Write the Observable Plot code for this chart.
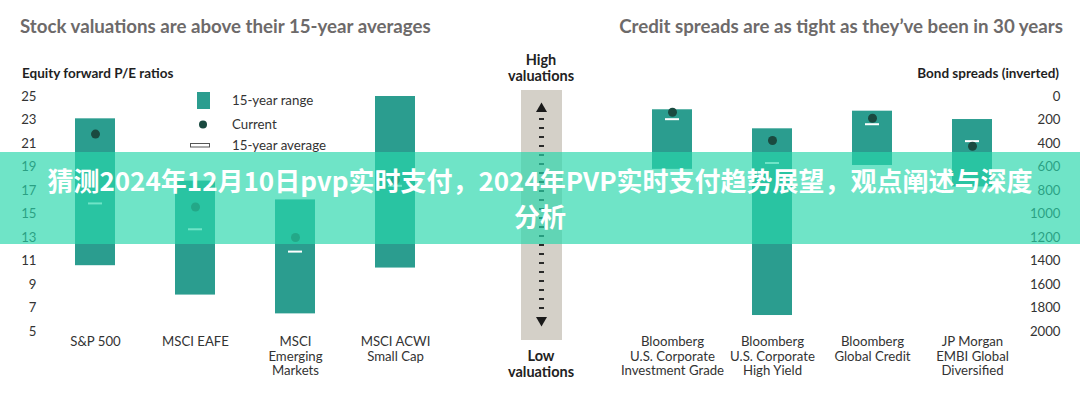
<!DOCTYPE html>
<html>
<head>
<meta charset="utf-8">
<script src="https://cdn.jsdelivr.net/npm/d3@7"></script>
<script src="https://cdn.jsdelivr.net/npm/@observablehq/plot@0.6"></script>
<style>
  html, body { margin: 0; padding: 0; background: #fff; }
  #wrap { position: relative; width: 1080px; height: 397px; overflow: hidden; background: #fff; font-family: Lato, "Open Sans", sans-serif; }
  .title { position: absolute; top: 14px; font-weight: 700; font-size: 18.7px; color: #6d6a6a; white-space: nowrap; line-height: 24px; }
  .axtitle { position: absolute; top: 65px; font-weight: 700; font-size: 13.5px; color: #1f1f1f; white-space: nowrap; line-height: 16px; }
  .gauge { position: absolute; font-weight: 700; font-size: 14.5px; color: #222; text-align: center; line-height: 16px; width: 120px; left: 481px; }
  #banner { position: absolute; left: 0; top: 152px; width: 1080px; height: 92px; background: rgba(40, 215, 172, 0.67);
            display: flex; align-items: center; justify-content: center; text-align: center;
            font-family: "Noto Sans CJK SC", sans-serif; font-weight: 700; font-size: 26px; line-height: 36px; color: #fff; }
</style>
</head>
<body>
<div id="wrap"></div>
<script>
// ---- Data ----
const stockCategories = ["S&P 500", "MSCI EAFE", "MSCI\nEmerging\nMarkets", "MSCI ACWI\nSmall Cap"];
const stockLow     = [10.6, 8.1, 6.5, 10.4];
const stockHigh    = [23.1, 17.8, 16.2, 25.0];
const stockCurrent = [21.8, 15.6, 13.0, 17.9];
const stockAverage = [15.9, 13.7, 11.8, 17.4];
const stockTicks   = [5, 7, 9, 11, 13, 15, 17, 19, 21, 23, 25];

const bondCategories = ["Bloomberg\nU.S. Corporate\nInvestment Grade", "Bloomberg\nU.S. Corporate\nHigh Yield", "Bloomberg\nGlobal Credit", "JP Morgan\nEMBI Global\nDiversified"];
const bondLow     = [113, 275, 125, 196];
const bondHigh    = [620, 1864, 587, 770];
const bondCurrent = [134, 374, 185, 423];
const bondAverage = [193, 566, 236, 380];
const bondTicks   = [0, 200, 400, 600, 800, 1000, 1200, 1400, 1600, 1800, 2000];

const legendLabels = ["15-year range", "Current", "15-year average"];

const stock = stockCategories.map((name, i) => ({name, low: stockLow[i], high: stockHigh[i], current: stockCurrent[i], average: stockAverage[i]}));
const bond = bondCategories.map((name, i) => ({name, low: bondLow[i], high: bondHigh[i], current: bondCurrent[i], average: bondAverage[i]}));

const BAR = "#2b9d8f", DOT = "#1a4a40";
const wrap = document.getElementById("wrap");
const baseStyle = {fontFamily: "Lato, 'Open Sans', sans-serif", fontSize: "13.2px", color: "#333", background: "transparent", overflow: "visible"};

// ---- Left panel ----
const left = Plot.plot({
  width: 460, height: 397,
  marginTop: 96, marginBottom: 66, marginLeft: 40, marginRight: 11,
  x: {domain: stockCategories, paddingInner: 0.6, paddingOuter: 0.325},
  y: {domain: [5, 25]},
  style: baseStyle,
  marks: [
    Plot.barY(stock, {x: "name", y1: "low", y2: "high", fill: BAR}),
    Plot.tickY(stock, {x: "name", y: "average", stroke: "#fff", strokeWidth: 2, insetLeft: 13, insetRight: 13}),
    Plot.dot(stock, {x: "name", y: "current", r: 4.5, fill: DOT}),
    Plot.axisY(stockTicks, {tickSize: 0, tickPadding: 4, label: null}),
    Plot.axisX({tickSize: 0, tickPadding: 4.5, label: null, lineHeight: 1.1})
  ]
});
left.style.position = "absolute"; left.style.left = "0px"; left.style.top = "0px";
wrap.appendChild(left);

// ---- Right panel ----
const right = Plot.plot({
  width: 480, height: 397,
  marginTop: 96, marginBottom: 66, marginLeft: 20, marginRight: 56,
  x: {domain: bondCategories, paddingInner: 0.6, paddingOuter: 0.3065},
  y: {domain: [0, 2000], reverse: true},
  style: baseStyle,
  marks: [
    Plot.barY(bond, {x: "name", y1: "low", y2: "high", fill: BAR}),
    Plot.tickY(bond, {x: "name", y: "average", stroke: "#fff", strokeWidth: 2, insetLeft: 13, insetRight: 13}),
    Plot.dot(bond, {x: "name", y: "current", r: 4.5, fill: DOT}),
    Plot.axisY(bondTicks, {anchor: "right", tickSize: 0, tickPadding: 0, textAnchor: "end", dx: 36, label: null, tickFormat: d => String(d)}),
    Plot.axisX({tickSize: 0, tickPadding: 4.5, label: null, lineHeight: 1.1})
  ]
});
right.style.position = "absolute"; right.style.left = "600px"; right.style.top = "0px";
wrap.appendChild(right);

// ---- Titles ----
function addDiv(cls, text, css) {
  const d = document.createElement("div");
  d.className = cls; d.textContent = text;
  Object.assign(d.style, css);
  wrap.appendChild(d);
  return d;
}
addDiv("title", "Stock valuations are above their 15-year averages", {left: "20px"});
addDiv("title", "Credit spreads are as tight as they\u2019ve been in 30 years", {right: "17px"});
addDiv("axtitle", "Equity forward P/E ratios", {left: "22px"});
addDiv("axtitle", "Bond spreads (inverted)", {right: "21px"});

// ---- Legend + gauge (decorations) ----
const svg = d3.select(wrap).append("svg")
  .attr("width", 1080).attr("height", 397)
  .style("position", "absolute").style("left", 0).style("top", 0)
  .style("font-family", "Lato, 'Open Sans', sans-serif");

svg.append("rect").attr("x", 197).attr("y", 92).attr("width", 13).attr("height", 17).attr("fill", BAR);
svg.append("circle").attr("cx", 203).attr("cy", 124.5).attr("r", 4).attr("fill", DOT);
svg.append("rect").attr("x", 190.5).attr("y", 143.5).attr("width", 19).attr("height", 3.5).attr("fill", "#fff").attr("stroke", "#555").attr("stroke-width", 1);
[100, 124.5, 145.5].forEach((cy, i) => {
  svg.append("text").attr("x", 232).attr("y", cy).attr("dy", "0.35em")
    .attr("font-size", 13.3).attr("fill", "#333").text(legendLabels[i]);
});

// gauge
svg.append("rect").attr("x", 521).attr("y", 90).attr("width", 41).attr("height", 250).attr("fill", "#d4d0c8");
svg.append("path").attr("d", "M536,112 L547,112 L541.5,102.5 Z").attr("fill", "#1a1a1a");
svg.append("path").attr("d", "M536,317 L547,317 L541.5,326.5 Z").attr("fill", "#1a1a1a");
d3.range(119, 312, 9).forEach(y => {
  svg.append("rect").attr("x", 539).attr("y", y - 1).attr("width", 5).attr("height", 2).attr("fill", "#2a2a2a");
});
const hi = addDiv("gauge", "", {top: "52px"}); hi.innerHTML = "High<br>valuations";
const lo = addDiv("gauge", "", {top: "348px"}); lo.innerHTML = "Low<br>valuations";

// ---- Overlay banner ----
const banner = document.createElement("div");
banner.id = "banner";
banner.innerHTML = "<div>猜测2024年12月10日pvp实时支付，2024年PVP实时支付趋势展望，观点阐述与深度<br>分析</div>";
wrap.appendChild(banner);
</script>
</body>
</html>
